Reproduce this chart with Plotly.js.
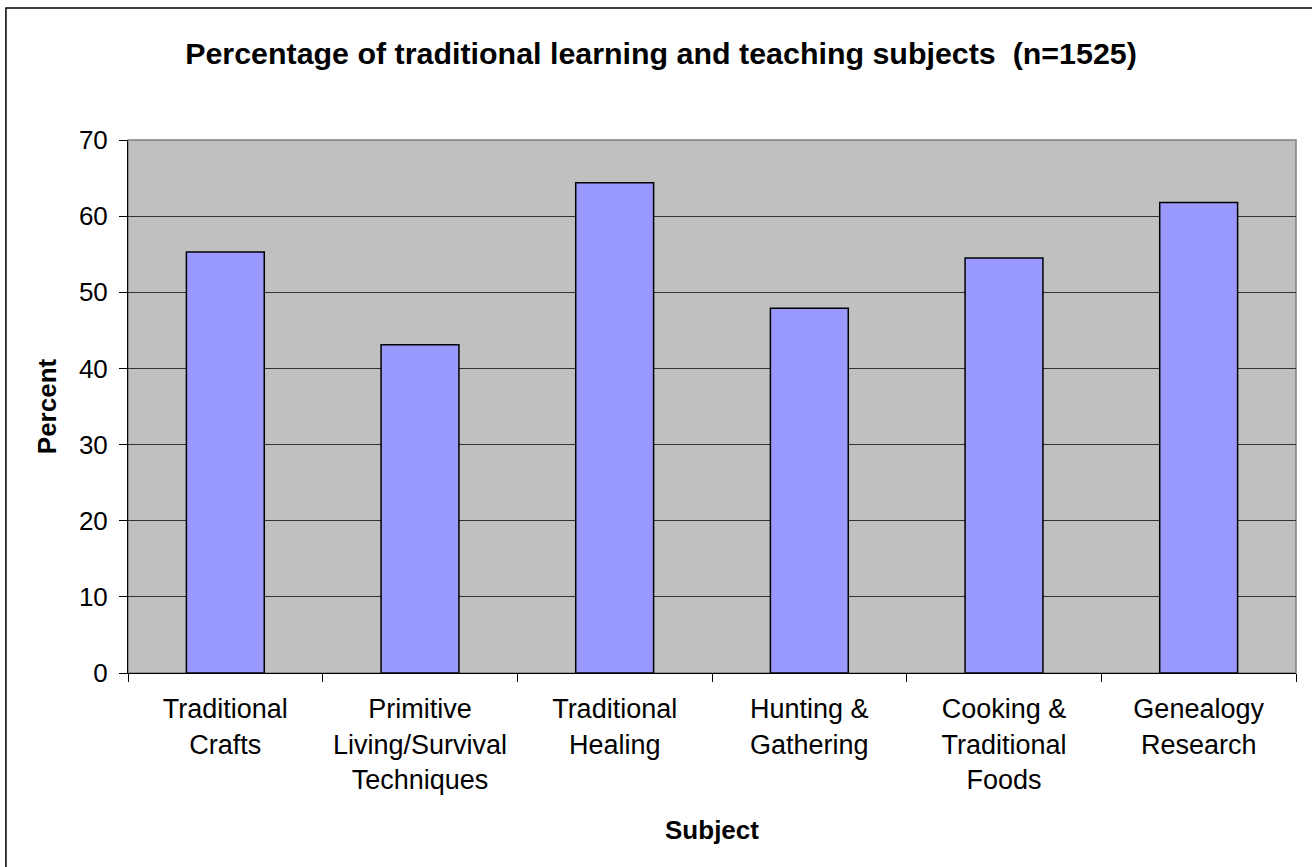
<!DOCTYPE html>
<html>
<head>
<meta charset="utf-8">
<script src="https://cdn.plot.ly/plotly-3.0.1.min.js"></script>
<style>html,body{margin:0;padding:0;background:#fff;}#chart{width:1312px;height:867px;}</style>
</head>
<body>
<div id="chart"></div>
<script>
const categories = [
  "Traditional<br>Crafts",
  "Primitive<br>Living/Survival<br>Techniques",
  "Traditional<br>Healing",
  "Hunting &<br>Gathering",
  "Cooking &<br>Traditional<br>Foods",
  "Genealogy<br>Research"
];
const percentValues = [55.3, 43.1, 64.4, 47.9, 54.5, 61.8];
const yTickValues = [0, 10, 20, 30, 40, 50, 60, 70];
const chartTitle = "Percentage of traditional learning and teaching subjects  (n=1525)";
const xAxisTitle = "Subject";
const yAxisTitle = "Percent";

const FONT = "Liberation Sans, Arial, sans-serif";

const trace = {
  type: "bar",
  x: categories,
  y: percentValues,
  marker: { color: "#9999FF", line: { color: "#000000", width: 1.5 } },
  hoverinfo: "x+y"
};

const layout = {
  width: 1312,
  height: 867,
  margin: { l: 128, r: 16, t: 140, b: 194 },
  paper_bgcolor: "#ffffff",
  plot_bgcolor: "#C0C0C0",
  bargap: 0.6,
  showlegend: false,
  font: { family: FONT, color: "#000000", size: 27 },
  title: {
    text: "<b>" + chartTitle + "</b>",
    font: { family: FONT, size: 30.4, color: "#000000" },
    xref: "container", x: 661 / 1312, xanchor: "center",
    yref: "container", y: 1 - 53 / 867, yanchor: "middle"
  },
  xaxis: {
    type: "category",
    tickson: "boundaries",
    ticks: "outside",
    ticklen: 8,
    tickcolor: "#000000",
    tickwidth: 1,
    showline: true,
    linecolor: "#000000",
    linewidth: 1,
    showgrid: false,
    ticklabelstandoff: 12,
    tickfont: { family: FONT, size: 27, color: "#000000" },
    title: { text: "<b>" + xAxisTitle + "</b>", font: { family: FONT, size: 26, color: "#000000" }, standoff: 27 },
    fixedrange: true
  },
  yaxis: {
    range: [0, 70],
    tickvals: yTickValues,
    ticks: "outside",
    ticklen: 8,
    tickcolor: "#000000",
    tickwidth: 1,
    showline: true,
    linecolor: "#000000",
    linewidth: 1,
    showgrid: true,
    gridcolor: "#333333",
    gridwidth: 1,
    zeroline: false,
    ticklabelstandoff: 6,
    tickfont: { family: FONT, size: 26, color: "#000000" },
    title: { text: "<b>" + yAxisTitle + "</b>", font: { family: FONT, size: 26, color: "#000000" }, standoff: 14 },
    fixedrange: true
  },
  shapes: [
    { type: "rect", xref: "paper", yref: "paper", x0: 0, x1: 1, y0: 0, y1: 1,
      line: { color: "#808080", width: 1.5 }, layer: "below" },
    { type: "rect", xref: "paper", yref: "paper", x0: -0.1045, x1: 1.3, y0: -0.6, y1: 1.2477,
      line: { color: "#000000", width: 1.5 }, layer: "above", fillcolor: "rgba(0,0,0,0)" }
  ]
};

Plotly.newPlot("chart", [trace], layout, { displayModeBar: false, staticPlot: true });
</script>
</body>
</html>
